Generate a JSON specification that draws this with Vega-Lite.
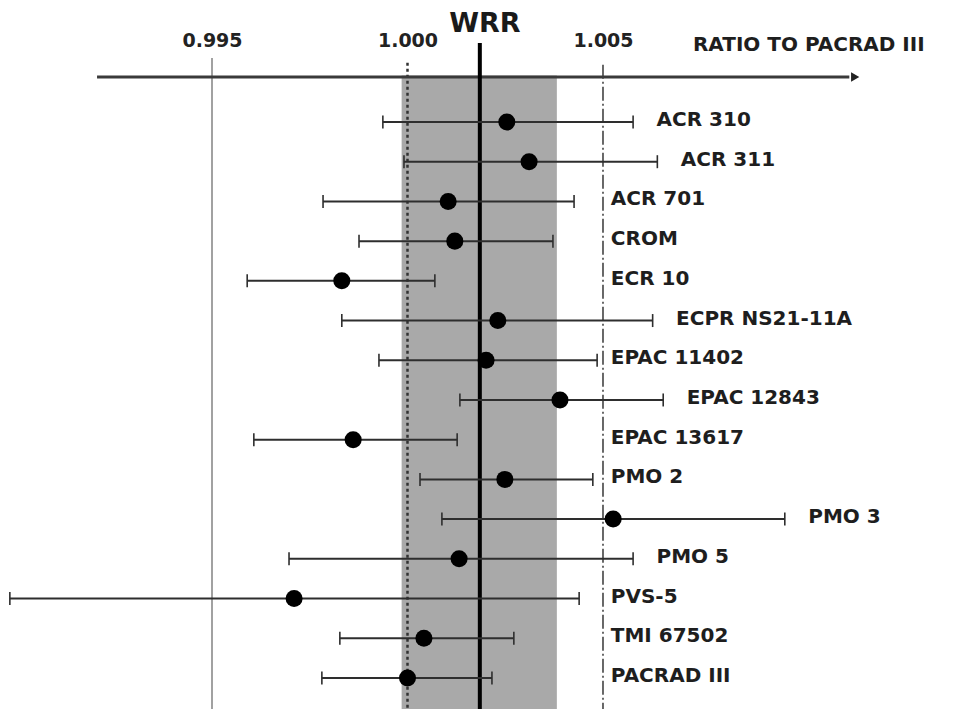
{
  "$schema": "https://vega.github.io/schema/vega-lite/v6.json",
  "width": 971,
  "height": 709,
  "autosize": {"type": "none"},
  "padding": 0,
  "background": "white",
  "config": {"view": {"stroke": null}},
  "datasets": {
    "rows": [
      {"name": "ACR 310", "row": 1, "lo": 0.99937, "val": 1.00254, "hi": 1.00577},
      {"name": "ACR 311", "row": 2, "lo": 0.99991, "val": 1.00311, "hi": 1.00639},
      {"name": "ACR 701", "row": 3, "lo": 0.99784, "val": 1.00104, "hi": 1.00426},
      {"name": "CROM", "row": 4, "lo": 0.99876, "val": 1.00121, "hi": 1.00372},
      {"name": "ECR 10", "row": 5, "lo": 0.9959, "val": 0.99832, "hi": 1.0007},
      {"name": "ECPR NS21-11A", "row": 6, "lo": 0.99832, "val": 1.00231, "hi": 1.00627},
      {"name": "EPAC 11402", "row": 7, "lo": 0.99927, "val": 1.00201, "hi": 1.00485},
      {"name": "EPAC 12843", "row": 8, "lo": 1.00134, "val": 1.0039, "hi": 1.00654},
      {"name": "EPAC 13617", "row": 9, "lo": 0.99607, "val": 0.99861, "hi": 1.00127},
      {"name": "PMO 2", "row": 10, "lo": 1.00032, "val": 1.00249, "hi": 1.00474},
      {"name": "PMO 3", "row": 11, "lo": 1.00088, "val": 1.00526, "hi": 1.00965},
      {"name": "PMO 5", "row": 12, "lo": 0.99697, "val": 1.00132, "hi": 1.00577},
      {"name": "PVS-5", "row": 13, "lo": 0.98983, "val": 0.9971, "hi": 1.00439},
      {"name": "TMI 67502", "row": 14, "lo": 0.99827, "val": 1.00042, "hi": 1.00272},
      {"name": "PACRAD III", "row": 15, "lo": 0.99781, "val": 1.0, "hi": 1.00216}
    ]
  },
  "layer": [
    {
      "data": {"values": [{"lo": 0.99985, "hi": 1.00382}]},
      "mark": {"type": "rect", "fill": "#a9a9a9"},
      "encoding": {
        "x": {"field": "lo", "type": "quantitative", "scale": {"domain": [0.989578, 1.014412], "nice": false, "zero": false}},
        "x2": {"field": "hi"},
        "y": {"datum": -0.17, "type": "quantitative", "scale": {"domain": [-2.072, 15.782], "reverse": true, "nice": false, "zero": false}, "axis": null},
        "y2": {"datum": 16.2}
      }
    },
    {
      "data": {"values": [{}]},
      "mark": {"type": "rule", "stroke": "#8a8a8a", "strokeWidth": 1.6},
      "encoding": {
        "x": {"datum": 0.995, "type": "quantitative"},
        "y": {"datum": -0.61, "type": "quantitative"},
        "y2": {"datum": 16.2}
      }
    },
    {
      "data": {"values": [{}]},
      "mark": {"type": "rule", "stroke": "#333333", "strokeWidth": 2.5, "strokeDash": [3, 3]},
      "encoding": {
        "x": {"datum": 1.0, "type": "quantitative"},
        "y": {"datum": -0.49, "type": "quantitative"},
        "y2": {"datum": 16.2}
      }
    },
    {
      "data": {"values": [{}]},
      "mark": {"type": "rule", "stroke": "#444444", "strokeWidth": 1.6, "strokeDash": [14, 3, 2, 3]},
      "encoding": {
        "x": {"datum": 1.005, "type": "quantitative"},
        "y": {"datum": -0.44, "type": "quantitative"},
        "y2": {"datum": 16.2}
      }
    },
    {
      "data": {"values": [{}]},
      "mark": {"type": "rule", "stroke": "#3a3a3a", "strokeWidth": 3},
      "encoding": {
        "x": {"datum": 0.99206, "type": "quantitative"},
        "x2": {"datum": 1.0113},
        "y": {"datum": -0.133, "type": "quantitative"}
      }
    },
    {
      "data": {"values": [{}]},
      "mark": {"type": "point", "shape": "triangle-right", "filled": true, "fill": "#222222", "size": 90, "opacity": 1},
      "encoding": {
        "x": {"datum": 1.01145, "type": "quantitative"},
        "y": {"datum": -0.133, "type": "quantitative"}
      }
    },
    {
      "data": {"values": [{}]},
      "mark": {"type": "rule", "stroke": "#000000", "strokeWidth": 4},
      "encoding": {
        "x": {"datum": 1.00185, "type": "quantitative"},
        "y": {"datum": -0.99, "type": "quantitative"},
        "y2": {"datum": 16.2}
      }
    },
    {
      "data": {"name": "rows"},
      "mark": {"type": "rule", "stroke": "#2e2e2e", "strokeWidth": 2},
      "encoding": {
        "x": {"field": "lo", "type": "quantitative"},
        "x2": {"field": "hi"},
        "y": {"field": "row", "type": "quantitative"}
      }
    },
    {
      "data": {"name": "rows"},
      "transform": [{"fold": ["lo", "hi"], "as": ["end", "endval"]}],
      "mark": {"type": "tick", "orient": "vertical", "color": "#2e2e2e", "size": 13, "thickness": 1.6, "opacity": 1},
      "encoding": {
        "x": {"field": "endval", "type": "quantitative"},
        "y": {"field": "row", "type": "quantitative"}
      }
    },
    {
      "data": {"name": "rows"},
      "mark": {"type": "circle", "color": "#000000", "size": 290, "opacity": 1},
      "encoding": {
        "x": {
          "field": "val",
          "type": "quantitative",
          "axis": {
            "orient": "top",
            "offset": -77,
            "values": [0.995, 1.0, 1.005],
            "format": ".3f",
            "domain": false,
            "ticks": false,
            "tickSize": 0,
            "grid": false,
            "labelPadding": 27,
            "labelFont": "DejaVu Sans",
            "labelFontSize": 19,
            "labelFontWeight": "bold",
            "labelColor": "#222222",
            "labelFlush": false,
            "labelOverlap": false,
            "title": null
          }
        },
        "y": {"field": "row", "type": "quantitative"}
      }
    },
    {
      "data": {"name": "rows"},
      "transform": [{"calculate": "datum.hi < 1.005 ? 1.0052 : datum.hi + 0.0006", "as": "labx"}],
      "mark": {"type": "text", "align": "left", "baseline": "middle", "font": "DejaVu Sans", "fontSize": 20, "fontWeight": "bold", "color": "#1e1e1e", "dy": -2},
      "encoding": {
        "x": {"field": "labx", "type": "quantitative"},
        "y": {"field": "row", "type": "quantitative"},
        "text": {"field": "name"}
      }
    },
    {
      "data": {"values": [{"t": "WRR"}]},
      "mark": {"type": "text", "align": "center", "baseline": "middle", "font": "DejaVu Sans", "fontSize": 27, "fontWeight": "bold", "color": "#1a1a1a"},
      "encoding": {
        "x": {"datum": 1.00198, "type": "quantitative"},
        "y": {"datum": -1.47, "type": "quantitative"},
        "text": {"field": "t"}
      }
    },
    {
      "data": {"values": [{"t": "RATIO TO PACRAD III"}]},
      "mark": {"type": "text", "align": "left", "baseline": "middle", "font": "DejaVu Sans", "fontSize": 20, "fontWeight": "bold", "color": "#1e1e1e"},
      "encoding": {
        "x": {"datum": 1.0073, "type": "quantitative"},
        "y": {"datum": -0.94, "type": "quantitative"},
        "text": {"field": "t"}
      }
    }
  ]
}
